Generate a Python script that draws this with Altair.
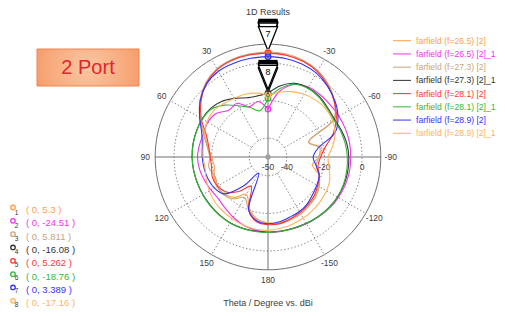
import altair as alt
import pandas as pd

# ---------------- data ----------------
THETA = list(range(0, 181, 10)) + list(range(-170, 0, 10))  # degrees, CCW from top

SERIES = [
    "farfield (f=26.5) [2]", "farfield (f=26.5) [2]_1",
    "farfield (f=27.3) [2]", "farfield (f=27.3) [2]_1",
    "farfield (f=28.1) [2]", "farfield (f=28.1) [2]_1",
    "farfield (f=28.9) [2]", "farfield (f=28.9) [2]_1",
]
COLORS = ["#FFA04A", "#EE33EE", "#C9A57E", "#333333",
          "#FF3333", "#33B833", "#3333FF", "#FFB35C"]

F265_2 = [5.3, 5.3, 5.0, 4.0, 1.3, -3.0, -8.5, -14.0, -17.5, -20.0, -21.0, -19.5, -18.5, -19.5, -22.0, -27.0, -21.0, -16.5, -15.0,
          -14.5, -15.0, -15.5, -16.5, -17.5, -19.0, -21.0, -26.0, -23.0, -21.0, -27.0, -9.0, -4.0, 0.0, 2.8, 4.4, 5.1]
F265_1 = [-24.51, -20.0, -21.5, -17.0, -17.5, -14.0, -13.0, -13.5, -13.0, -12.5, -13.0, -14.0, -15.0, -15.5, -14.5, -13.0, -11.5, -10.5, -10.0,
          -9.8, -9.5, -9.0, -8.3, -7.5, -6.8, -6.3, -6.0, -6.0, -6.0, -6.2, -6.5, -6.8, -6.8, -7.0, -9.0, -14.5]
F273_2 = [5.811, 5.7, 5.3, 4.2, 1.5, -2.8, -8.0, -13.5, -17.0, -19.0, -18.0, -20.0, -19.0, -19.0, -21.0, -25.0, -20.0, -16.0, -14.5,
          -14.0, -14.5, -15.0, -16.0, -17.0, -18.5, -21.0, -24.0, -23.0, -22.0, -27.0, -9.5, -4.0, 0.2, 3.0, 4.8, 5.6]
F273_1 = [-16.08, -17.0, -16.5, -14.0, -11.5, -10.0, -9.5, -9.5, -9.5, -9.6, -9.8, -10.0, -10.0, -10.0, -9.8, -9.6, -9.8, -10.0, -10.0,
          -10.0, -9.8, -9.3, -8.6, -7.9, -7.3, -7.0, -6.9, -7.0, -7.5, -8.5, -9.3, -8.8, -7.8, -7.5, -8.3, -11.5]
F281_2 = [5.262, 5.2, 4.9, 3.8, 1.0, -3.5, -9.0, -15.0, -18.0, -19.3, -19.5, -18.5, -19.0, -21.0, -26.0, -32.0, -20.0, -15.0, -14.0,
          -14.0, -15.0, -16.0, -17.0, -18.0, -19.5, -21.0, -23.0, -22.0, -19.0, -13.0, -8.0, -4.0, -0.5, 2.5, 4.2, 5.0]
F281_1 = [-18.76, -25.0, -22.0, -18.5, -14.0, -10.5, -9.7, -9.6, -9.6, -9.7, -9.8, -9.9, -9.9, -9.8, -9.6, -9.5, -9.6, -9.8, -9.9,
          -9.9, -9.7, -9.2, -8.5, -7.8, -7.4, -7.3, -7.5, -7.8, -8.3, -9.0, -9.8, -9.3, -8.2, -7.8, -8.8, -13.0]
F289_2 = [3.389, 3.3, 3.1, 2.7, 0.8, -3.0, -8.0, -12.5, -14.5, -15.0, -15.5, -16.0, -17.0, -19.5, -30.0, -40.0, -20.0, -15.5, -14.5,
          -15.0, -16.0, -16.5, -17.5, -19.0, -20.0, -21.0, -24.0, -26.0, -23.0, -12.0, -7.0, -3.5, -0.8, 1.5, 2.7, 3.2]
F289_1 = [-17.16, -15.5, -14.5, -14.0, -13.0, -12.0, -12.5, -14.0, -15.0, -15.5, -16.0, -15.0, -14.0, -13.0, -12.5, -12.0, -11.5, -11.0, -11.0,
          -11.5, -12.0, -12.5, -13.0, -13.5, -14.0, -15.0, -17.0, -18.0, -15.0, -12.0, -10.5, -10.0, -10.5, -11.5, -13.0, -15.0]
CURVES = [F265_2, F265_1, F273_2, F273_1, F281_2, F281_1, F289_2, F289_1]

R_MIN = -50          # dB at the centre
RING_DB = [-40, -20, 0]
OUTER_DB = 10
RADIAL_LABELS = [-50, -40, -20, 0]
ANGLE_TICKS = [30, 60, 90, 120, 150, 180, -150, -120, -90, -60, -30]
DOTTED_SPOKES = [30, 60, 120, 150, -30, -60, -120, -150]
SOLID_SPOKES = [0, 90, 180, -90]
LABEL_DB = 15.3
MARKER_IDS = [1, 2, 3, 4, 5, 6, 7, 8]
POINTER_ORDER = [1, 3, 5, 7, 6, 4, 8]   # drawing order of marker pointers

# ---------------- layout ----------------
W, H = 489, 300
CX, CY = 260, 149          # centre of polar plot in plot px
K = 1.88                   # px per dB
XDOM = [-CX / K, (W - CX) / K]
YDOM = [-(H - CY) / K, CY / K]
FONT = "Liberation Sans"
TXT = "#404040"

X = alt.X("px:Q", scale=alt.Scale(domain=XDOM, nice=False, zero=False), axis=None)
Y = alt.Y("py:Q", scale=alt.Scale(domain=YDOM, nice=False, zero=False), axis=None)
COLOR = alt.Color("name:N", scale=alt.Scale(domain=SERIES, range=COLORS), legend=None)


def polar(ch, v="v", t="theta", xn="px", yn="py"):
    return ch.transform_calculate(**{
        xn: f"-(datum.{v} - ({R_MIN})) * sin(datum.{t} * PI / 180)",
        yn: f"(datum.{v} - ({R_MIN})) * cos(datum.{t} * PI / 180)",
    })


# curves
rows = []
for name, vals in zip(SERIES, CURVES):
    th = THETA + [THETA[0]]
    vv = vals + [vals[0]]
    for i, (t, v) in enumerate(zip(th, vv)):
        rows.append({"name": name, "theta": t, "v": v, "idx": i})
curves_df = pd.DataFrame(rows)

# rings
ring_rows = []
for r in RING_DB + [OUTER_DB]:
    for t in range(0, 361, 3):
        ring_rows.append({"ring": r, "theta": t, "v": r, "outer": r == OUTER_DB})
rings_df = pd.DataFrame(ring_rows)

spokes_df = pd.DataFrame(
    [{"theta": t, "v0": RING_DB[0], "v1": OUTER_DB, "solid": False} for t in DOTTED_SPOKES]
    + [{"theta": t, "v0": R_MIN, "v1": OUTER_DB, "solid": True} for t in SOLID_SPOKES]
)

markers_df = pd.DataFrame({"name": SERIES, "id": MARKER_IDS, "theta": 0, "v": [c[0] for c in CURVES]})
pointer_df = pd.DataFrame([
    {"id": m, "theta": 0, "v": CURVES[m - 1][0], "ord": k,
     "lab": str(m) if m in (7, 8) else ""}
    for k, m in enumerate(POINTER_ORDER)
])

layers = []

# 2 Port box
box = alt.Chart(alt.Data(values=[{}])).mark_rect(
    fill=alt.RadialGradient(gradient="radial",
                            stops=[alt.GradientStop(color="#FCC6A2", offset=0),
                                   alt.GradientStop(color="#F7A475", offset=0.6),
                                   alt.GradientStop(color="#F2844E", offset=1)],
                            x1=0.5, y1=0.5, r1=0, x2=0.5, y2=0.5, r2=0.75),
    stroke="#EE8650", strokeWidth=1,
).encode(x=alt.value(29), x2=alt.value(131), y=alt.value(41), y2=alt.value(78))
box_txt = alt.Chart(alt.Data(values=[{}])).mark_text(
    text="2 Port", font=FONT, fontSize=20, color="#E3262C", baseline="middle", align="center"
).encode(x=alt.value(80), y=alt.value(59.5))
layers += [box, box_txt]

# grid rings
inner_rings = polar(alt.Chart(rings_df[~rings_df.outer])).mark_line(
    color="#8A8A8A", strokeDash=[1.5, 2], strokeWidth=1
).encode(x=X, y=Y, detail="ring:N", order="theta:Q")
outer_ring = polar(alt.Chart(rings_df[rings_df.outer])).mark_line(
    color="#707070", strokeWidth=1
).encode(x=X, y=Y, order="theta:Q")
layers += [inner_rings, outer_ring]

sp = polar(polar(alt.Chart(spokes_df), v="v0", xn="x0", yn="y0"), v="v1", xn="x1", yn="y1")
dotted_sp = sp.transform_filter("!datum.solid").mark_rule(color="#8A8A8A", strokeDash=[1.5, 2], strokeWidth=1).encode(
    x=alt.X("x0:Q", scale=alt.Scale(domain=XDOM, nice=False, zero=False), axis=None),
    y=alt.Y("y0:Q", scale=alt.Scale(domain=YDOM, nice=False, zero=False), axis=None),
    x2="x1:Q", y2="y1:Q")
solid_sp = sp.transform_filter("datum.solid").mark_rule(color="#707070", strokeWidth=1).encode(
    x=alt.X("x0:Q", scale=alt.Scale(domain=XDOM, nice=False, zero=False), axis=None),
    y=alt.Y("y0:Q", scale=alt.Scale(domain=YDOM, nice=False, zero=False), axis=None),
    x2="x1:Q", y2="y1:Q")
layers += [dotted_sp, solid_sp]

# angle labels
ang_df = pd.DataFrame({"theta": ANGLE_TICKS, "v": LABEL_DB, "lab": [str(a) for a in ANGLE_TICKS]})
ang = polar(alt.Chart(ang_df)).mark_text(font=FONT, fontSize=8.5, color=TXT, baseline="middle").encode(
    x=X, y=Y, text="lab:N")
rad_df = pd.DataFrame({"theta": -90, "v": RADIAL_LABELS, "lab": [str(r) for r in RADIAL_LABELS]})
rad = polar(alt.Chart(rad_df)).mark_text(font=FONT, fontSize=8.5, color=TXT, baseline="middle", dy=10).encode(
    x=X, y=Y, text="lab:N")
layers += [ang, rad]

# curves
lines = polar(alt.Chart(curves_df)).mark_line(strokeWidth=1.1, interpolate="catmull-rom").encode(
    x=X, y=Y, color=COLOR, detail="name:N", order="idx:Q")
layers.append(lines)

# centre dot
centre = polar(alt.Chart(pd.DataFrame({"theta": [0], "v": [R_MIN]}))).mark_point(
    filled=True, size=28, color="#A0A0A0", opacity=1).encode(x=X, y=Y)
layers.append(centre)

# marker pointers
ptr_bar = polar(alt.Chart(pointer_df)).mark_point(
    shape="M -0.8 -1.28 L 0.8 -1.28 L 0.8 -1 L -0.8 -1 Z", size=576, filled=True, color="black",
    opacity=1, yOffset=-18).encode(x=X, y=Y, order="ord:Q")
ptr_tri = polar(alt.Chart(pointer_df)).mark_point(
    shape="M -0.8 -1 L 0.8 -1 L 0 1 Z", size=576, filled=True, fill="white", stroke="black",
    strokeWidth=1.3, opacity=1, yOffset=-18).encode(x=X, y=Y, order="ord:Q")
ptr_lab = polar(alt.Chart(pointer_df)).mark_text(
    font=FONT, fontSize=9, color="black", baseline="middle", yOffset=-23).encode(x=X, y=Y, text="lab:N")
layers += [ptr_bar, ptr_tri, ptr_lab]

# markers on curves
mk = polar(alt.Chart(markers_df)).mark_point(shape="circle", filled=False, size=30, strokeWidth=1.4, opacity=1).encode(
    x=X, y=Y, color=COLOR)
mk_dot = polar(alt.Chart(markers_df)).mark_point(shape="circle", filled=True, size=3, opacity=1).encode(
    x=X, y=Y, color=COLOR)
layers += [mk, mk_dot]

# titles
title = alt.Chart(alt.Data(values=[{}])).mark_text(
    text="1D Results", font=FONT, fontSize=9, color=TXT, baseline="middle").encode(x=alt.value(CX), y=alt.value(4))
sub = alt.Chart(alt.Data(values=[{}])).mark_text(
    text="Theta / Degree vs. dBi", font=FONT, fontSize=9, color=TXT, baseline="middle").encode(
    x=alt.value(CX), y=alt.value(295))
layers += [title, sub]

# series legend (top right)
leg_df = pd.DataFrame({"name": SERIES, "row": list(range(len(SERIES)))})
LEG_Y = alt.Y("row:Q", scale=alt.Scale(domain=[0, 7], range=[32.7, 125.3]), axis=None)
leg_line = alt.Chart(leg_df).mark_rule(strokeWidth=1).encode(
    x=alt.value(385), x2=alt.value(403), y=LEG_Y, color=COLOR)
leg_txt = alt.Chart(leg_df).mark_text(font=FONT, fontSize=8.6, align="left", baseline="middle").encode(
    x=alt.value(408), y=LEG_Y, text="name:N", color=COLOR)
layers += [leg_line, leg_txt]

# marker list (bottom left)
ml_df = markers_df.assign(row=list(range(8)),
                          lab=[f"( 0, {v:g} )" for v in markers_df.v],
                          num=[str(i) for i in MARKER_IDS])
ML_Y = alt.Y("row:Q", scale=alt.Scale(domain=[0, 7], range=[202, 295.3]), axis=None)
ML_Y2 = alt.Y("row:Q", scale=alt.Scale(domain=[0, 7], range=[199.5, 292.8]), axis=None)
ML_Y3 = alt.Y("row:Q", scale=alt.Scale(domain=[0, 7], range=[205, 296.5]), axis=None)
ml_circ = alt.Chart(ml_df).mark_point(shape="circle", filled=False, size=20, strokeWidth=1.3, opacity=1).encode(
    x=alt.value(5), y=ML_Y2, color=COLOR)
ml_num = alt.Chart(ml_df).mark_text(font=FONT, fontSize=6.5, color="#333333", baseline="middle").encode(
    x=alt.value(8.5), y=ML_Y3, text="num:N")
ml_txt = alt.Chart(ml_df).mark_text(font=FONT, fontSize=9.5, align="left", baseline="middle").encode(
    x=alt.value(18), y=ML_Y, text="lab:N", color=COLOR)
layers += [ml_circ, ml_num, ml_txt]

chart = alt.layer(*layers).resolve_scale(x="independent", y="independent").properties(
    width=W, height=H, padding=0, autosize=alt.AutoSizeParams(type="none"),
    background="white",
).configure_view(stroke=None)

chart.save("out.html", embed_options={"renderer": "svg", "actions": False})
